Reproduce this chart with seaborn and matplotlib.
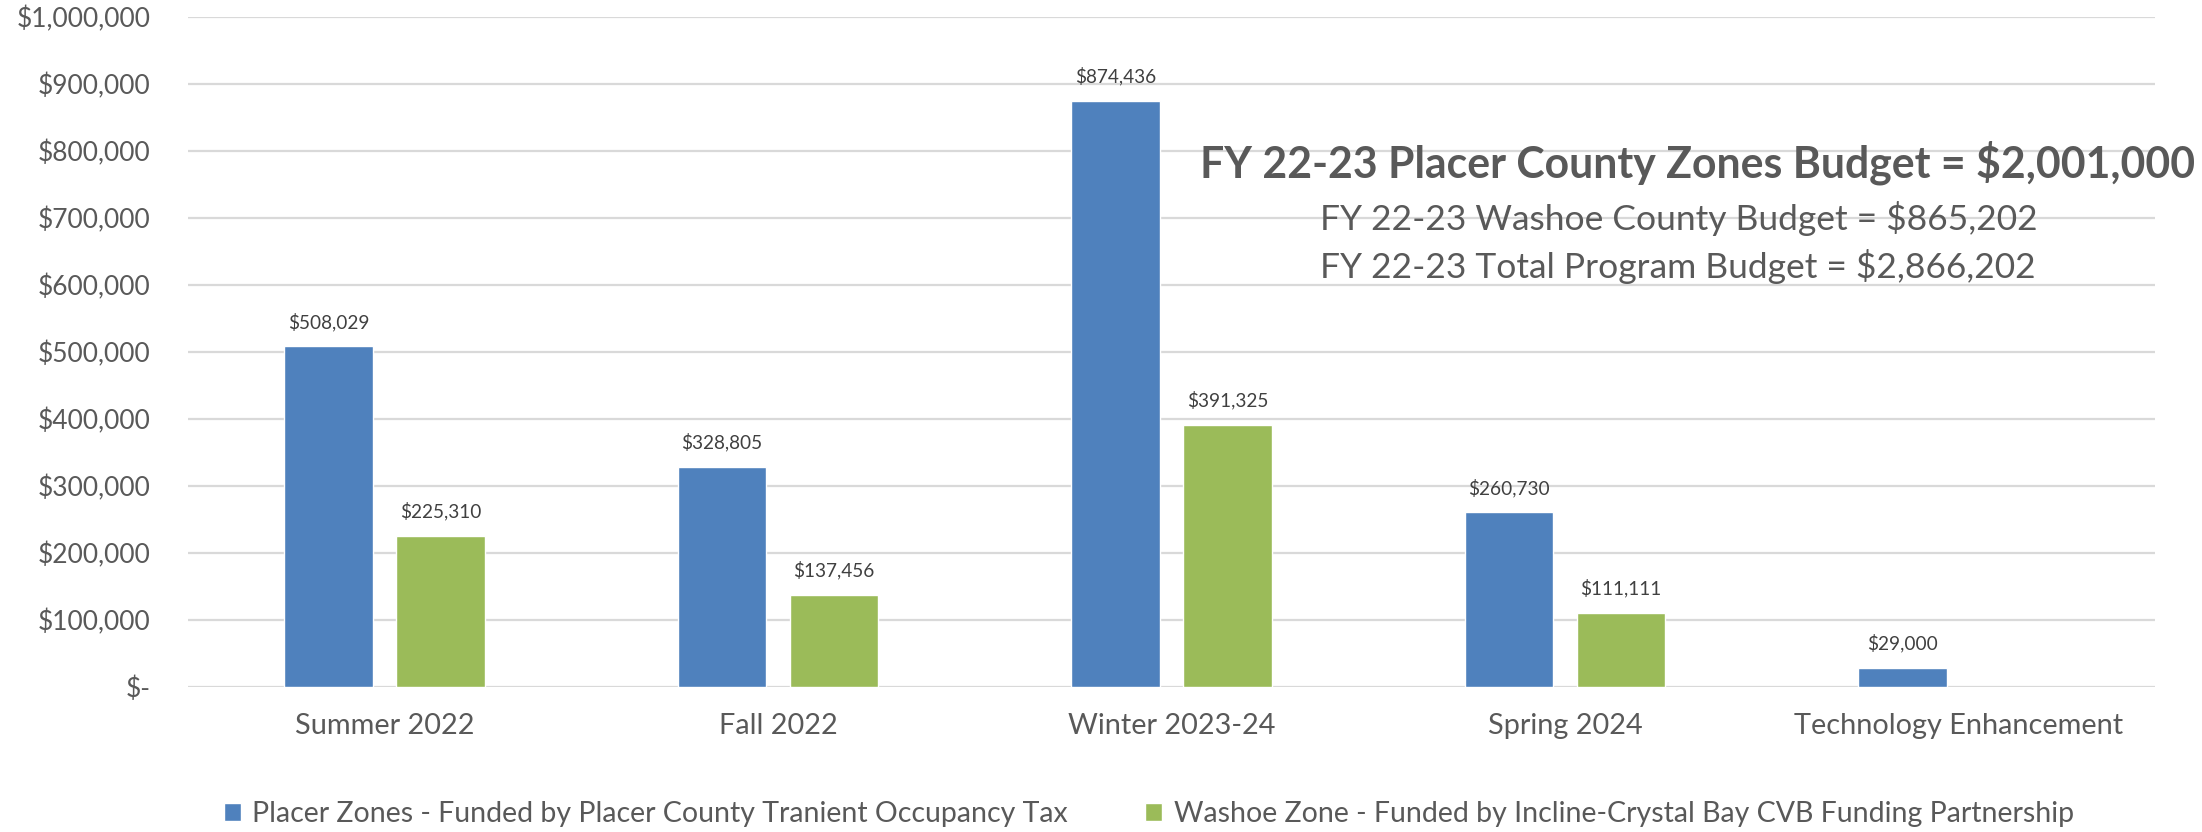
"""Placer / Washoe zone funding by season."""

import matplotlib
matplotlib.use("Agg")
import matplotlib.pyplot as plt
import matplotlib.ticker as mticker
import pandas as pd
import seaborn as sns

seasons = ["Summer 2022", "Fall 2022", "Winter 2023-24", "Spring 2024", "Technology Enhancement"]
placer = [508029, 328805, 874436, 260730, 29000]
washoe = [225310, 137456, 391325, 111111, None]
series = [
    "Placer Zones - Funded by Placer County Tranient Occupancy Tax",
    "Washoe Zone - Funded by Incline-Crystal Bay CVB Funding Partnership",
]
budget_lines = [
    "FY 22-23 Placer County Zones Budget = $2,001,000",
    "FY 22-23 Washoe County Budget = $865,202",
    "FY 22-23 Total Program Budget = $2,866,202",
]

BLUE = "#4F81BD"
GREEN = "#9BBB59"
TEXT = "#595959"
GRID = "#D9D9D9"

rows = []
for s, p, w in zip(seasons, placer, washoe):
    rows.append({"season": s, "value": p, "series": series[0]})
    if w is not None:
        rows.append({"season": s, "value": w, "series": series[1]})
df = pd.DataFrame(rows)

sns.set_style("white")
plt.rcParams["font.family"] = ["Lato", "DejaVu Sans"]

W, H = 2202, 832
fig = plt.figure(figsize=(W / 100, H / 100), dpi=100)
ax = fig.add_axes([188 / W, 1 - 687 / H, (2155 - 188) / W, (687 - 16.7) / H])

sns.barplot(
    data=df, x="season", y="value", hue="series", order=seasons,
    hue_order=series, palette=[BLUE, GREEN], width=0.57, gap=0.21,
    saturation=1, ax=ax, legend=True,
)

for cont in ax.containers:
    ax.bar_label(cont, labels=[f"${v:,.0f}" for v in cont.datavalues],
                 padding=11, fontsize=13.7, color="#404040")

ax.set_ylim(0, 1_000_000)
ax.set_xlim(-0.5, 4.5)
ax.yaxis.set_major_locator(mticker.MultipleLocator(100_000))
ax.yaxis.set_major_formatter(
    mticker.FuncFormatter(lambda v, _: "$-" if v == 0 else f"${v:,.0f}"))
ax.grid(axis="y", color=GRID, linewidth=1.6)
ax.set_axisbelow(True)
for sp in ax.spines.values():
    sp.set_visible(False)
ax.tick_params(axis="y", length=0, pad=27, labelsize=19, labelcolor=TEXT)
ax.tick_params(axis="x", length=0, pad=19, labelsize=20.8, labelcolor=TEXT)
ax.set_xlabel("")
ax.set_ylabel("")

handles, labels = ax.get_legend_handles_labels()
ax.get_legend().remove()
fig.legend(handles, labels, loc="center", bbox_to_anchor=(0.5217, 1 - 814 / H),
           ncol=2, frameon=False, fontsize=20.5, labelcolor=TEXT,
           handlelength=0.6, handleheight=0.6, handletextpad=0.4,
           columnspacing=2.7)

fig.text(1200 / W, 1 - 163 / H, budget_lines[0], fontsize=30.8, fontweight="bold",
         color=TEXT, va="center", ha="left")
fig.text(1320 / W, 1 - 218 / H, budget_lines[1], fontsize=25.5,
         color=TEXT, va="center", ha="left")
fig.text(1320 / W, 1 - 267 / H, budget_lines[2], fontsize=25.5,
         color=TEXT, va="center", ha="left")

fig.savefig("out.png", dpi=100)
